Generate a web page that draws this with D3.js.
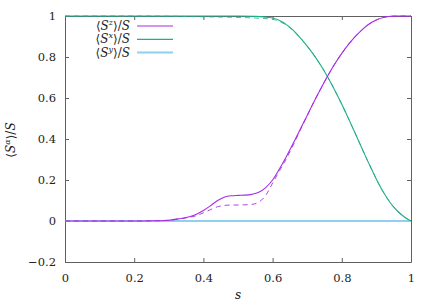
<!DOCTYPE html>
<html><head><meta charset="utf-8">
<script src="https://cdn.jsdelivr.net/npm/d3@7"></script>
<style>
body{margin:0;background:#fff;}
</style></head>
<body><svg id="c" width="436" height="305"></svg>
<script>
// data
const szS = [0,0.1,0.2,0.25,0.3,0.33,0.36,0.38,0.40,0.42,0.44,0.46,0.48,0.50,0.52,0.54,0.56,0.58,0.60,0.62,0.64,0.66,0.68,0.70,0.72,0.74,0.76,0.78,0.80,0.82,0.84,0.86,0.88,0.90,0.92,0.94,0.96,1.0];
const szSolidV = [0,0,0,0.001,0.004,0.011,0.021,0.033,0.051,0.074,0.099,0.116,0.123,0.125,0.126,0.13,0.14,0.163,0.20,0.255,0.315,0.38,0.448,0.515,0.583,0.648,0.71,0.767,0.818,0.863,0.902,0.935,0.962,0.981,0.993,0.999,1.0,1.0];
const szDashV  = [0,0,0,0.001,0.004,0.01,0.018,0.026,0.04,0.055,0.069,0.076,0.078,0.078,0.079,0.081,0.092,0.125,0.185,0.245,0.305,0.372,0.444,0.513,0.583,0.648,0.71,0.767,0.818,0.863,0.902,0.935,0.962,0.981,0.993,0.999,1.0,1.0];
const sxS = [0,0.2,0.3,0.4,0.5,0.55,0.6,0.62,0.64,0.66,0.68,0.70,0.72,0.74,0.76,0.78,0.80,0.82,0.84,0.86,0.88,0.90,0.92,0.94,0.96,0.98,1.0];
const sxSolidV = [1,1,1,1,1,0.998,0.99,0.978,0.958,0.93,0.893,0.853,0.808,0.757,0.70,0.637,0.569,0.497,0.423,0.348,0.274,0.204,0.141,0.089,0.05,0.021,0];
const sxDashV  = [1,1,0.999,0.996,0.993,0.99,0.984,0.973,0.955,0.928,0.893,0.853,0.808,0.757,0.70,0.637,0.569,0.497,0.423,0.348,0.274,0.204,0.141,0.089,0.05,0.021,0];
const syS = [0,1];
const syV = [0,0];
const xTicks = [0,0.2,0.4,0.6,0.8,1];
const yTicks = [-0.2,0,0.2,0.4,0.6,0.8,1];

const FONT="'DejaVu Serif', 'Liberation Serif', serif";
const W=436,H=305,m={l:65,r:25,t:16,b:43};
const svg=d3.select("#c");
const x=d3.scaleLinear().domain([0,1]).range([m.l,W-m.r]);
const y=d3.scaleLinear().domain([-0.2,1]).range([H-m.b,m.t]);
const fmt=d=>d===0?"0":d===1?"1":String(d).replace("-","\u2212");
const axc="#606060";

const gB=svg.append("g").attr("transform",`translate(0,${H-m.b})`)
 .call(d3.axisBottom(x).tickValues(xTicks).tickFormat(fmt).tickSizeInner(-4).tickSizeOuter(0).tickPadding(12));
const gT=svg.append("g").attr("transform",`translate(0,${m.t})`)
 .call(d3.axisTop(x).tickValues(xTicks).tickFormat("").tickSizeInner(-4).tickSizeOuter(0));
const gL=svg.append("g").attr("transform",`translate(${m.l},0)`)
 .call(d3.axisLeft(y).tickValues(yTicks).tickFormat(fmt).tickSizeInner(-4).tickSizeOuter(0).tickPadding(9));
const gR=svg.append("g").attr("transform",`translate(${W-m.r},0)`)
 .call(d3.axisRight(y).tickValues(yTicks).tickFormat("").tickSizeInner(-4).tickSizeOuter(0));
[gB,gT,gL,gR].forEach(g=>{
  g.attr("font-family",null);
  g.selectAll(".domain").attr("stroke",axc).attr("stroke-width",1);
  g.selectAll(".tick line").attr("stroke",axc);
  g.selectAll("text").attr("fill","#222").style("font-size","11.5px").style("font-family",FONT);
});

const line=d3.line().x(d=>x(d[0])).y(d=>y(d[1])).curve(d3.curveMonotoneX);
const zip=(a,b)=>a.map((s,i)=>[s,b[i]]);
const cz="#a52de8", cx="#1fae88", cy="#8fd0ee";
const plot=svg.append("g");
plot.append("path").datum(zip(syS,syV)).attr("d",line).attr("fill","none").attr("stroke",cy).attr("stroke-width",2);
plot.append("path").datum(zip(sxS,sxDashV)).attr("d",line).attr("fill","none").attr("stroke",cx).attr("stroke-width",1).attr("stroke-dasharray","5,4").attr("opacity",0.8);
plot.append("path").datum(zip(sxS,sxSolidV)).attr("d",line).attr("fill","none").attr("stroke",cx).attr("stroke-width",1.1);
plot.append("path").datum(zip(szS,szDashV)).attr("d",line).attr("fill","none").attr("stroke",cz).attr("stroke-width",1).attr("stroke-dasharray","5,4").attr("opacity",0.9);
plot.append("path").datum(zip(szS,szSolidV)).attr("d",line).attr("fill","none").attr("stroke",cz).attr("stroke-width",1.1);

function labelText(sel,sup){
  sel.append("tspan").text("\u27E8");
  sel.append("tspan").style("font-style","italic").text("S");
  sel.append("tspan").style("font-style","italic").style("font-size","8px").attr("dy",-5).text(sup);
  sel.append("tspan").attr("dy",5).text("\u27E9/");
  sel.append("tspan").style("font-style","italic").text("S");
}
const leg=[["z",cz,1.2],["x",cx,1.2],["y",cy,2]];
leg.forEach((d,i)=>{
  const yy=26+i*13.3;
  const t=svg.append("text").attr("x",130).attr("y",yy+4).attr("text-anchor","end")
    .style("font-size","12px").style("font-family",FONT).attr("fill","#222");
  labelText(t,d[0]);
  svg.append("line").attr("x1",137).attr("x2",173).attr("y1",yy).attr("y2",yy).attr("stroke",d[1]).attr("stroke-width",d[2]);
});

const yl=svg.append("text").attr("transform","translate(15,140) rotate(-90)").attr("text-anchor","middle")
  .style("font-size","12px").style("font-family",FONT).attr("fill","#222");
labelText(yl,"\u03B1");
svg.append("text").attr("x",238).attr("y",299).attr("text-anchor","middle")
  .style("font-size","12px").style("font-style","italic").style("font-family",FONT).attr("fill","#222").text("s");
</script></body></html>
